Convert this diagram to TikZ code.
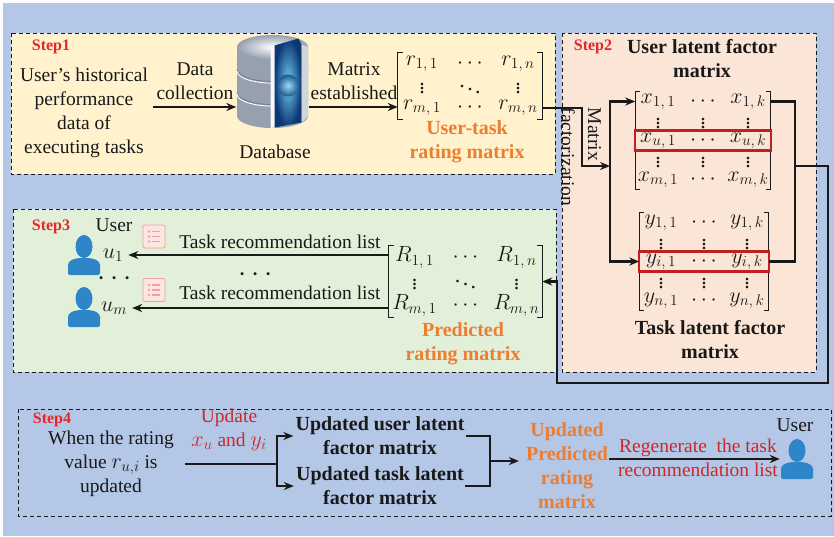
\documentclass[tikz,border=0pt]{standalone}
\usepackage{fix-cm}
\usepackage{fontspec}
\setmainfont{Liberation Serif}
\usetikzlibrary{matrix,fit,arrows.meta,calc}

\definecolor{bgblue}{RGB}{180,199,231}
\definecolor{fillA}{RGB}{255,242,204}
\definecolor{fillB}{RGB}{251,229,214}
\definecolor{fillC}{RGB}{226,240,217}
\definecolor{stepred}{RGB}{228,40,40}
\definecolor{txtred}{RGB}{204,40,40}
\definecolor{orng}{RGB}{237,125,49}
\definecolor{rowred}{RGB}{192,32,32}
\definecolor{ink}{RGB}{25,25,25}
\definecolor{pblue}{RGB}{46,134,200}
\definecolor{listred}{RGB}{242,160,160}
\definecolor{listfill}{RGB}{252,230,226}
\definecolor{dbA}{RGB}{150,160,175}
\definecolor{dbB}{RGB}{240,242,246}
\definecolor{dbC}{RGB}{115,125,140}
\definecolor{globeIn}{RGB}{110,205,245}
\definecolor{globeOut}{RGB}{12,55,115}

% inline maths set a little larger than the surrounding text
\newcommand{\bigmath}[1]{{\fontsize{22}{24}\selectfont$#1$}}

\tikzset{
  person/.pic={
    \fill[pblue] (0,-8.5) ellipse [x radius=8.5, y radius=11.5];
    \fill[pblue, rounded corners=2pt] (-16,20) -- (-16,12)
      .. controls (-16,6) and (-11,4) .. (-5,3) -- (5,3)
      .. controls (11,4) and (16,6) .. (16,12) -- (16,20) -- cycle;
  },
  listicon/.pic={
    \draw[listred, fill=listfill, line width=0.8pt, rounded corners=2pt] (-11,-11.5) rectangle (11,11.5);
    \foreach \yy in {-5,0,5} {
      \fill[listred] (-5,\yy) circle (1.4);
      \draw[listred, line width=1.1pt] (-2,\yy) -- (6,\yy);
    }
  },
  dbicon/.pic={
    % cylinder body
    \shade[left color=dbA, middle color=dbB, right color=dbA]
      (-35.5,-34.5) -- (-35.5,34.5)
      .. controls (-35.5,41.1) and (-19.6,46.5) .. (0,46.5)
      .. controls (19.6,46.5) and (35.5,41.1) .. (35.5,34.5) -- (35.5,-34.5) -- cycle;
    % seams between the disks
    \foreach \s in {-12,11} {
      \draw[dbC, line width=0.9pt] (-35.5,\s)
        .. controls (-35.5,\s+6.6) and (-19.6,\s+12) .. (0,\s+12)
        .. controls (19.6,\s+12) and (35.5,\s+6.6) .. (35.5,\s);
      \draw[white, line width=0.9pt] (-35.5,\s+1.6)
        .. controls (-35.5,\s+8.2) and (-19.6,\s+13.6) .. (0,\s+13.6)
        .. controls (19.6,\s+13.6) and (35.5,\s+8.2) .. (35.5,\s+1.6);
    }
    % top face
    \shade[inner color=white, outer color=dbA] (0,-34.5) ellipse [x radius=35.5, y radius=12];
    % open slice with the globe inside
    \shade[inner color=globeIn, outer color=globeOut]
      (2,-36) -- (26,-43) -- (29,-37) -- (29,41) -- (2,46) -- cycle;
    \shade[inner color=globeIn!70!white, outer color=globeOut!80!globeIn] (15.5,4) circle (11);
    \fill[white!92!dbA] (-2,-35) -- (2,-36) -- (2,46) -- (-2,46.5) -- cycle;
    \fill[dbA!45!white] (29,-37) -- (35.5,-34.5) -- (35.5,34.5) -- (29,41) -- cycle;
  }
}

\begin{document}
\begin{tikzpicture}[x=1pt,y=-1pt,
  txt/.style={font=\fontsize{19.5}{24}\selectfont, align=center, inner sep=1pt, text=ink},
  head/.style={txt, font=\fontsize{20}{24}\selectfont\bfseries},
  orlab/.style={head, text=orng},
  redlab/.style={txt, text=txtred},
  steplab/.style={font=\fontsize{16}{18}\selectfont\bfseries, text=stepred, inner sep=0pt},
  stepbox/.style={draw=ink, line width=0.9pt, dash pattern=on 4pt off 3pt},
  conn/.style={draw=ink, line width=2.2pt},
  arr/.style={conn, -{Stealth[length=10pt,width=8pt]}},
  brk/.style={draw=ink, line width=1.1pt},
  mat/.style={matrix of math nodes, inner sep=0pt, column sep=0pt, row sep=0pt,
    nodes={inner sep=0pt, anchor=center, text=ink, font=\fontsize{22}{22}\selectfont}},
  rowbox/.style={draw=rowred, line width=2.2pt, inner sep=0pt},
]
\useasboundingbox (0,0) rectangle (834,536);
\fill[white] (0,0) rectangle (834,536);
\fill[bgblue] (3,3) rectangle (834,536);

% step panels
\draw[stepbox, fill=fillA] (11,33) rectangle (555,174);
\draw[stepbox, fill=fillB] (562,33) rectangle (816,372);
\draw[stepbox, fill=fillC] (13,209) rectangle (556,372);
\draw[stepbox] (18,409) rectangle (831,516);

% ---------- Step 1 ----------
\node[steplab] (s1) at (51,47) {Step1};
\node[txt] (hist) at (84,113) {User’s historical\\performance\\data of\\executing tasks};
\pic (dbpic) at (272.5,81.5) {dbicon};
\node[inner sep=0pt, minimum width=72pt, minimum height=4pt] (db) at (272.5,107) {};
\node[txt] (dblab) at (275,152) {Database};
\node[txt] (dc) at (195,81) {Data\\collection};
\node[txt] (me) at (354,81) {Matrix\\established};
\matrix (R1) [mat, nodes={minimum width=48pt, minimum height=22pt}] at (470,86) {
  r_{1,\,1} & \cdots & r_{1,\,n}\\
  \vdots & \ddots & \vdots\\
  r_{m,\,1} & \cdots & r_{m,\,n}\\
};
\draw[brk] ([xshift=5pt]R1.north west) -- (R1.north west) -- (R1.south west) -- ([xshift=5pt]R1.south west);
\draw[brk] ([xshift=-5pt]R1.north east) -- (R1.north east) -- (R1.south east) -- ([xshift=-5pt]R1.south east);
\node[orlab] (utr) at (467,142) {User-task\\rating matrix};
\draw[arr, shorten <=4pt] (hist.east |- db.west) -- (db.west);
\draw[arr] (db.east) -- (R1.west |- db.east);

% ---------- Step 2 ----------
\node[steplab] (s2) at (593,47) {Step2};
\node[head] (xt) at (702,59) {User latent factor\\matrix};
\matrix (X) [mat, nodes={minimum width=45pt, minimum height=19.5pt}] at (703,140.5) {
  x_{1,\,1} & \cdots & x_{1,\,k}\\
  \vdots & \vdots & \vdots\\
  x_{u,\,1} & \cdots & x_{u,\,k}\\
  \vdots & \vdots & \vdots\\
  x_{m,\,1} & \cdots & x_{m,\,k}\\
};
\matrix (Y) [mat, nodes={minimum width=43pt, minimum height=19.5pt}] at (704,261.5) {
  y_{1,\,1} & \cdots & y_{1,\,k}\\
  \vdots & \vdots & \vdots\\
  y_{i,\,1} & \cdots & y_{i,\,k}\\
  \vdots & \vdots & \vdots\\
  y_{n,\,1} & \cdots & y_{n,\,k}\\
};
\foreach \M in {X,Y} {
  \draw[brk] ([xshift=5pt]\M.north west) -- (\M.north west) -- (\M.south west) -- ([xshift=5pt]\M.south west);
  \draw[brk] ([xshift=-5pt]\M.north east) -- (\M.north east) -- (\M.south east) -- ([xshift=-5pt]\M.south east);
}
\node[rowbox, fit=(X-3-1)(X-3-3)] (xu) {};
\node[rowbox, fit=(Y-3-1)(Y-3-3)] (yi) {};
\node[head] (yt) at (710,340) {Task latent factor\\matrix};
\node[txt, rotate=-90, align=left, font=\fontsize{19.5}{27}\selectfont] (mf) at (581,157) {Matrix\\factorization};

\coordinate (fsplit) at (610,166);
\coordinate (xyj) at (795,166);
\coordinate (lr) at (828,383);
\coordinate (ll) at (557,383);
\draw[arr] (R1.east |- R1-3-3) -- ++(40,0) |- (fsplit);
\draw[arr] (fsplit) |- (X.west |- X-1-1);
\draw[arr] (fsplit) |- (Y.west |- Y-3-1);
\draw[conn] (X.east |- X-1-3) -| (xyj);
\draw[conn] (Y.east |- Y-3-3) -| (xyj);

% ---------- Step 3 ----------
\node[steplab] (s3) at (51,227) {Step3};
\node[txt] (usr) at (114,225) {User};
\pic (p1) at (84,255) {person};
\pic (p2) at (84,307) {person};
\node[txt, inner sep=2pt] (u1) at (113,255) {\bigmath{u_1}};
\node[txt, inner sep=2pt] (um) at (114,308) {\bigmath{u_m}};
\node[txt] (ud) at (115,279) {\scalebox{1.5}{$\cdots$}};
\pic (l1) at (154,236.5) {listicon};
\pic (l2) at (154,290) {listicon};
\node[txt] (tl1) at (280,242) {Task recommendation list};
\node[txt] (tl2) at (280,293) {Task recommendation list};
\node[txt] (md) at (256,275) {\scalebox{1.5}{$\cdots$}};
\matrix (R2) [mat, nodes={minimum width=51pt, minimum height=24pt}] at (465.5,281.5) {
  R_{1,\,1} & \cdots & R_{1,\,n}\\
  \vdots & \ddots & \vdots\\
  R_{m,\,1} & \cdots & R_{m,\,n}\\
};
\draw[brk] ([xshift=5pt]R2.north west) -- (R2.north west) -- (R2.south west) -- ([xshift=5pt]R2.south west);
\draw[brk] ([xshift=-5pt]R2.north east) -- (R2.north east) -- (R2.south east) -- ([xshift=-5pt]R2.south east);
\node[orlab] (prm) at (463,344) {Predicted\\rating matrix};
\draw[arr, shorten >=3pt] (R2.west |- u1) -- (u1.east);
\draw[arr, shorten >=3pt] (R2.west |- um) -- (um.east);
\draw[arr] (xyj) -| (lr) -- (ll) |- (R2.east);

% ---------- Step 4 ----------
\node[steplab] (s4) at (52,420) {Step4};
\node[txt] (when) at (111,464) {When the rating\\value \bigmath{r_{u,i}} is\\updated};
\node[redlab] (upd) at (229,430) {Update\\\bigmath{x_u} and \bigmath{y_i}};
\coordinate (s4j) at (277,464);
\node[head] (uu) at (380,436) {Updated user latent\\factor matrix};
\node[head] (ut) at (380,486) {Updated task latent\\factor matrix};
\coordinate (j4) at (490,461);
\node[orlab] (upr) at (567,466) {Updated\\Predicted\\rating\\matrix};
\node[redlab] (regen) at (698,458) {Regenerate\ \ the task\\recommendation list};
\node[txt] (usr4) at (795,425) {User};
\pic (p4pic) at (797,459) {person};
\node[inner sep=0pt, minimum width=34pt, minimum height=42pt] (p4) at (797,459) {};
\draw[conn, shorten <=10pt] (when.east |- s4j) -- (s4j);
\draw[arr, shorten >=1pt] (s4j) |- (uu.west);
\draw[arr, shorten >=1pt] (s4j) |- (ut.west);
\draw[conn] (uu.east) -| (j4);
\draw[conn] (ut.east) -| (j4);
\draw[arr, shorten >=6pt] (j4) -- (upr.west |- j4);
\draw[arr] (upr.east |- p4.west) -- (p4.west);
\end{tikzpicture}
\end{document}
